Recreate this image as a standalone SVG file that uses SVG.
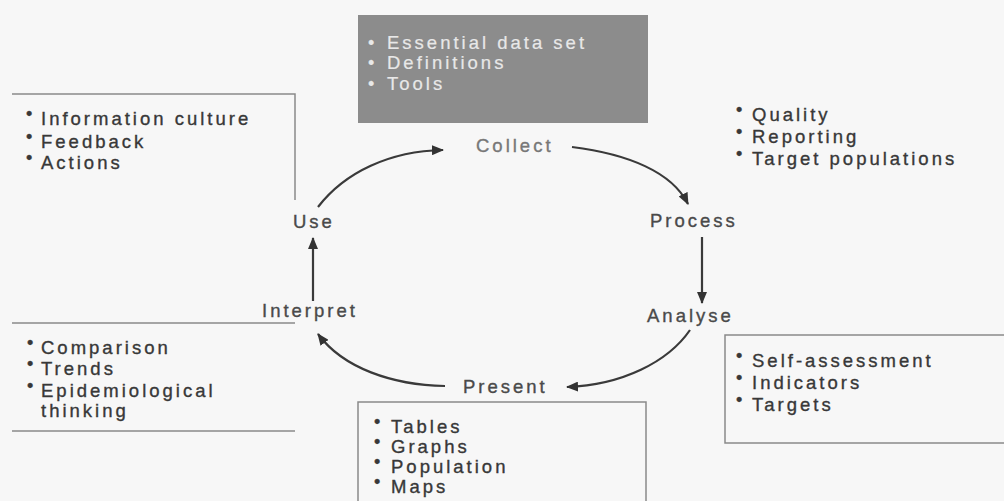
<svg xmlns="http://www.w3.org/2000/svg" width="1004" height="501" viewBox="0 0 1004 501">
  <defs>
    <style>
      text { font-family: "Liberation Sans", Arial, sans-serif; font-size: 18.5px; letter-spacing: 3px; stroke-width: 0.35px; }
      .item { fill: #383838; stroke: #383838; }
      .blt { font-size: 18px; letter-spacing: 0; }
      .stage { fill: #4a4a4a; stroke: #4a4a4a; }
      .light { fill: #777; stroke: #777; }
      .inv { fill: #e8e8e8; stroke: #e8e8e8; stroke-width: 0.2px; }
      .frame { fill: none; stroke: #8a8a8a; stroke-width: 1.5; }
      .flow { fill: none; stroke: #3a3a3a; stroke-width: 2.2; }
    </style>
    <marker id="head" viewBox="0 0 12 10" refX="11" refY="5" markerWidth="12" markerHeight="10" markerUnits="userSpaceOnUse" orient="auto">
      <path d="M0,0 L12,5 L0,10 Z" fill="#333"/>
    </marker>
  </defs>

  <rect width="1004" height="501" fill="#f7f7f7"/>

  <!-- Collect: data inputs -->
  <g id="collect-inputs">
    <rect x="358" y="15" width="290" height="108" fill="#8c8c8c"/>
    <text class="inv" x="368" y="49"><tspan class="blt">•</tspan><tspan x="387">Essential data set</tspan></text>
    <text class="inv" x="368" y="69"><tspan class="blt">•</tspan><tspan x="387">Definitions</tspan></text>
    <text class="inv" x="368" y="90"><tspan class="blt">•</tspan><tspan x="387">Tools</tspan></text>
  </g>

  <!-- Use: outcomes -->
  <g id="use-notes">
    <path class="frame" d="M12,94 H295 V200"/>
    <text class="item" x="26" y="125"><tspan class="blt" dy="-5">•</tspan><tspan x="41" dy="5">Information culture</tspan></text>
    <text class="item" x="26" y="148"><tspan class="blt" dy="-5">•</tspan><tspan x="41" dy="5">Feedback</tspan></text>
    <text class="item" x="26" y="169"><tspan class="blt" dy="-5">•</tspan><tspan x="41" dy="5">Actions</tspan></text>
  </g>

  <!-- Process: checks -->
  <g id="process-notes">
    <text class="item" x="736" y="121"><tspan class="blt" dy="-5">•</tspan><tspan x="752" dy="5">Quality</tspan></text>
    <text class="item" x="736" y="143"><tspan class="blt" dy="-5">•</tspan><tspan x="752" dy="5">Reporting</tspan></text>
    <text class="item" x="736" y="165"><tspan class="blt" dy="-5">•</tspan><tspan x="752" dy="5">Target populations</tspan></text>
  </g>

  <!-- Analyse: measures -->
  <g id="analyse-notes">
    <path class="frame" d="M1010,335 H725 V443 H1010"/>
    <text class="item" x="736" y="367"><tspan class="blt" dy="-5">•</tspan><tspan x="752" dy="5">Self-assessment</tspan></text>
    <text class="item" x="736" y="389"><tspan class="blt" dy="-5">•</tspan><tspan x="752" dy="5">Indicators</tspan></text>
    <text class="item" x="736" y="411"><tspan class="blt" dy="-5">•</tspan><tspan x="752" dy="5">Targets</tspan></text>
  </g>

  <!-- Present: formats -->
  <g id="present-notes">
    <path class="frame" d="M358,510 V402 H646 V510"/>
    <text class="item" x="374" y="433"><tspan class="blt" dy="-5">•</tspan><tspan x="391" dy="5">Tables</tspan></text>
    <text class="item" x="374" y="453"><tspan class="blt" dy="-5">•</tspan><tspan x="391" dy="5">Graphs</tspan></text>
    <text class="item" x="374" y="473"><tspan class="blt" dy="-5">•</tspan><tspan x="391" dy="5">Population</tspan></text>
    <text class="item" x="374" y="493"><tspan class="blt" dy="-5">•</tspan><tspan x="391" dy="5">Maps</tspan></text>
  </g>

  <!-- Interpret: reasoning -->
  <g id="interpret-notes">
    <path class="frame" d="M12,323 H295"/>
    <path class="frame" d="M12,431 H295"/>
    <text class="item" x="27" y="354"><tspan class="blt" dy="-5">•</tspan><tspan x="41" dy="5">Comparison</tspan></text>
    <text class="item" x="27" y="375"><tspan class="blt" dy="-5">•</tspan><tspan x="41" dy="5">Trends</tspan></text>
    <text class="item" x="27" y="397"><tspan class="blt" dy="-5">•</tspan><tspan x="41" dy="5">Epidemiological</tspan></text>
    <text class="item" x="41" y="417">thinking</text>
  </g>

  <!-- Cycle stages -->
  <g id="stage-collect"><text class="light" x="476" y="152">Collect</text></g>
  <g id="stage-process"><text class="stage" x="650" y="227">Process</text></g>
  <g id="stage-analyse"><text class="stage" x="647" y="322">Analyse</text></g>
  <g id="stage-present"><text class="stage" x="463" y="393">Present</text></g>
  <g id="stage-interpret"><text class="stage" x="262" y="317">Interpret</text></g>
  <g id="stage-use"><text class="stage" x="293" y="228">Use</text></g>

  <!-- Cycle arrows -->
  <g id="connectors">
    <path class="flow" marker-end="url(#head)" d="M318,207 C345,172 390,151 443,150"/>
    <path class="flow" marker-end="url(#head)" d="M572,147 C628,154 672,172 688,204"/>
    <path class="flow" marker-end="url(#head)" d="M702,237 V303"/>
    <path class="flow" marker-end="url(#head)" d="M690,330 C668,362 622,385 567,387"/>
    <path class="flow" marker-end="url(#head)" d="M445,386 C392,385 343,368 318,334"/>
    <path class="flow" marker-end="url(#head)" d="M313,301 V238"/>
  </g>
</svg>
